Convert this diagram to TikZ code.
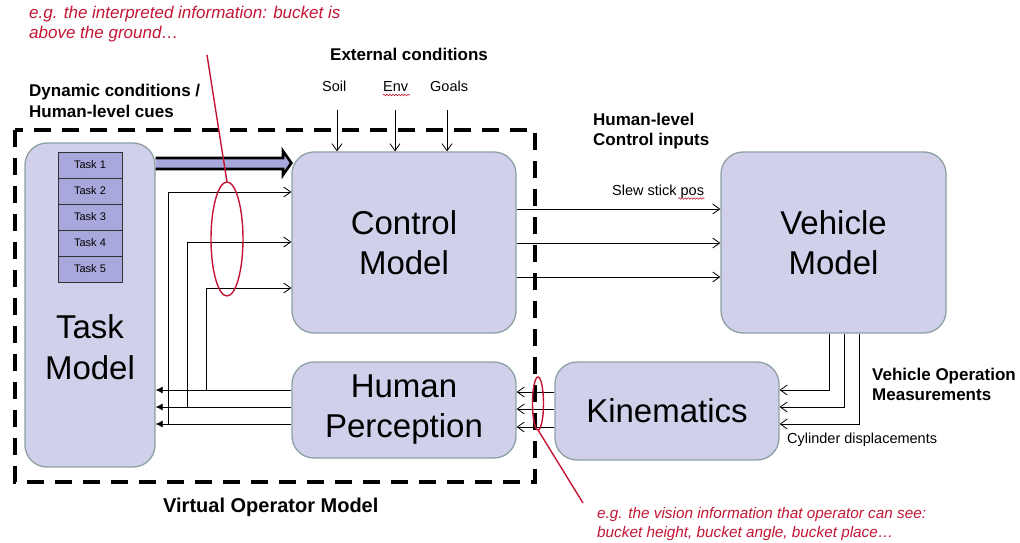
\documentclass[tikz,border=0pt]{standalone}
\usepackage{fontspec}
\setmainfont{Liberation Sans}
\usetikzlibrary{arrows.meta,decorations.pathmorphing}
\definecolor{boxfill}{RGB}{208,208,234}
\definecolor{boxline}{RGB}{140,160,165}
\definecolor{cellfill}{RGB}{168,168,220}
\definecolor{noteRed}{RGB}{196,22,52}
\tikzset{
  box/.style={draw=boxline, fill=boxfill, line width=1.3pt, rounded corners=22pt, inner sep=0pt, align=center,
    font=\fontsize{33}{40}\selectfont},
  cell/.style={draw=black!80, fill=cellfill, line width=0.7pt, minimum width=64pt, minimum height=26pt, inner sep=0pt,
    font=\fontsize{11}{13}\selectfont},
  boldlbl/.style={anchor=base west, inner sep=0pt, font=\fontsize{17}{20}\selectfont\bfseries},
  small/.style={anchor=base west, inner sep=0pt, font=\fontsize{14.5}{17}\selectfont},
  rednote/.style={anchor=base west, inner sep=0pt, text=noteRed, font=\fontsize{17}{20}\selectfont\itshape},
  rednotes/.style={anchor=base west, inner sep=0pt, text=noteRed, font=\fontsize{15.3}{19}\selectfont\itshape},
  openarr/.style={line width=0.8pt, -{Straight Barb[length=7pt,width=10pt]}},
  fillarr/.style={line width=0.8pt, -{Latex[length=7pt,width=7pt]}},
  redline/.style={draw=noteRed, line width=1.4pt},
  squiggle/.style={draw=noteRed, line width=0.6pt, decorate, decoration={snake, amplitude=0.8pt, segment length=3pt}},
}
\begin{document}
\begin{tikzpicture}[x=1pt,y=-1pt]
\useasboundingbox (0,0) rectangle (1020,543);
\fill[white] (0,0) rectangle (1020,543);

% dashed frame (Virtual Operator Model)
\draw[line width=4.5pt, dash pattern=on 17pt off 11pt] (15,130) rectangle (535,482);

% boxes
\node[box, minimum width=130pt, minimum height=324pt] (tm) at (90,305) {};
\node[inner sep=0pt, align=center, font=\fontsize{33}{41}\selectfont] (tmlabel) at (90,347) {Task\\Model};
\node[box, minimum width=224pt, minimum height=181pt] (cm) at (404,242.5) {Control\\Model};
\node[box, minimum width=225pt, minimum height=181pt] (vm) at (833.5,242.5) {Vehicle\\Model};
\node[box, minimum width=224pt, minimum height=96pt] (hp) at (404,410) {Human\\Perception};
\node[box, minimum width=224pt, minimum height=98pt] (km) at (667,411) {Kinematics};

% task list
\node[cell] (t1) at (90,165) {Task 1};
\node[cell] (t2) at (90,191) {Task 2};
\node[cell] (t3) at (90,217) {Task 3};
\node[cell] (t4) at (90,243) {Task 4};
\node[cell] (t5) at (90,269) {Task 5};

% thick arrow task model -> control model
\draw[fill=cellfill, line width=2.6pt, line join=miter]
  (tm.east |- 0,158) -- (283,158) -- (283,151) -- (cm.west |- 0,163) -- (283,175) -- (283,169) -- (tm.east |- 0,169) ;

% labels
\node[rednote] (n1a) at (29,19) {e.g. the interpreted information: bucket is};
\node[rednote] (n1b) at (29,39) {above the ground…};
\node[boldlbl] (ext) at (330,60) {External conditions};
\node[small] (soil) at (322,92) {Soil};
\node[small] (env) at (383,92) {Env};
\node[small] (goals) at (430,92) {Goals};
\node[boldlbl] (dyn1) at (29,96) {Dynamic conditions /};
\node[boldlbl] (dyn2) at (29,117) {Human-level cues};
\node[boldlbl] (hl1) at (593,125) {Human-level};
\node[boldlbl] (hl2) at (593,145) {Control inputs};
\node[small] (slew) at (612,195) {Slew stick pos};
\node[boldlbl] (vo1) at (872,380) {Vehicle Operation};
\node[boldlbl] (vo2) at (872,400) {Measurements};
\node[small] (cyl) at (787,443) {Cylinder displacements};
\node[boldlbl, font=\fontsize{20}{23}\selectfont\bfseries] (vom) at (163,512) {Virtual Operator Model};
\node[rednotes] (n2a) at (597,518) {e.g. the vision information that operator can see:};
\node[rednotes] (n2b) at (597,537) {bucket height, bucket angle, bucket place…};

% spell-check squiggles
\draw[squiggle] (env.base west) ++(0,3) -- ++(27,0);
\draw[squiggle] (slew.base east) ++(-26,3.5) -- ++(26,0);

% external conditions arrows
\draw[openarr] (337,110) -- (337,0 |- cm.north);
\draw[openarr] (395,110) -- (395,0 |- cm.north);
\draw[openarr] (447,110) -- (447,0 |- cm.north);

% human perception -> task model, with branches to control model
\draw[fillarr] (hp.west |- 0,390) -- (tm.east |- 0,390);
\draw[fillarr] (hp.west |- 0,407) -- (tm.east |- 0,407);
\draw[fillarr] (hp.west |- 0,424) -- (tm.east |- 0,424);
\draw[openarr] (206,390) |- (cm.west |- 0,288);
\draw[openarr] (187,407) |- (cm.west |- 0,242);
\draw[openarr] (168,424) |- (cm.west |- 0,192);

% control -> vehicle
\draw[openarr] (cm.east |- 0,209) -- (vm.west |- 0,209);
\draw[openarr] (cm.east |- 0,243) -- (vm.west |- 0,243);
\draw[openarr] (cm.east |- 0,277) -- (vm.west |- 0,277);

% vehicle -> kinematics
\draw[openarr] (vm.south -| 829,0) |- (km.east |- 0,390);
\draw[openarr] (vm.south -| 844,0) |- (km.east |- 0,407);
\draw[openarr] (vm.south -| 859,0) |- (km.east |- 0,424);

% kinematics -> human perception
\draw[openarr] (km.west |- 0,392) -- (hp.east |- 0,392);
\draw[openarr] (km.west |- 0,409) -- (hp.east |- 0,409);
\draw[openarr] (km.west |- 0,427) -- (hp.east |- 0,427);

% red annotations
\draw[redline] (227,239) ellipse [x radius=16, y radius=57];
\coordinate (c1) at (207,55);
\draw[redline] (c1) -- (227,182);
\draw[redline] (538,403.5) ellipse [x radius=5.5, y radius=26.5];
\coordinate (c2) at (583,503);
\draw[redline] (538,430) -- (c2);
\end{tikzpicture}
\end{document}
